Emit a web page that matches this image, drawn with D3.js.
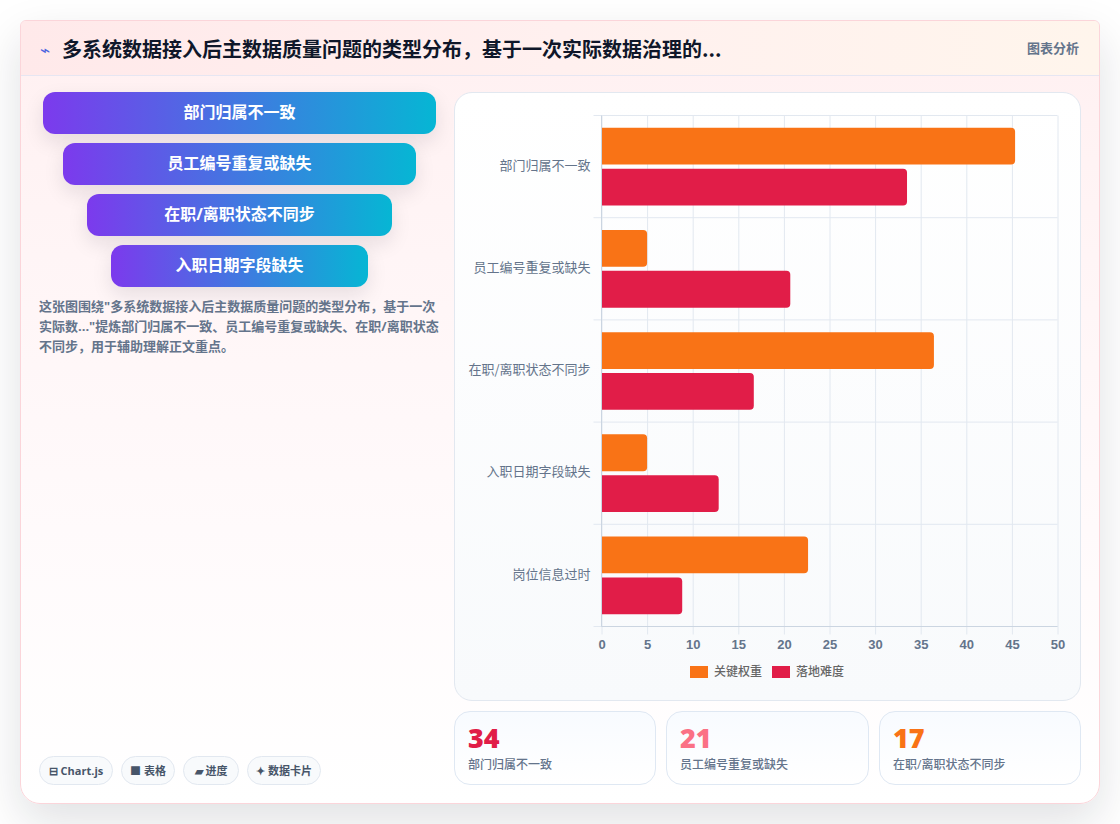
<!DOCTYPE html>
<html lang="zh-CN">
<head>
<meta charset="utf-8">
<title>主数据质量问题类型分布</title>
<script src="https://cdn.jsdelivr.net/npm/d3@7/dist/d3.min.js"></script>
<style>
  html, body { margin: 0; padding: 0; width: 1120px; height: 824px; overflow: hidden; background: #fff; }
  body { font-family: "Open Sans", "Noto Sans CJK SC", sans-serif; position: relative; }
  .abs { position: absolute; box-sizing: border-box; }
  .card { left: 20px; top: 20px; width: 1080px; height: 784px; border: 1px solid #fbd5da; border-radius: 6px 6px 20px 20px;
          background: linear-gradient(180deg, #fff0f1 0%, #fff5f6 30%, #fffafb 65%, #ffffff 100%);
          box-shadow: 0 18px 46px rgba(15, 23, 42, .13); }
  .head { left: 21px; top: 21px; width: 1078px; height: 55px; border-bottom: 1px solid #e6e6f2;
          background: linear-gradient(90deg, #ffe9ea 0%, #fff0ef 50%, #fff5ec 100%); border-radius: 5px 5px 0 0; }
  .title { left: 62px; top: 34px; font-family: "Noto Sans CJK SC", sans-serif; font-size: 20px; line-height: 30px; font-weight: 700; color: #0f172a; white-space: nowrap; }
  .bolt { left: 40px; top: 39px; font-size: 17px; line-height: 22px; color: #4a63e0; }
  .tag { right: 41px; top: 38px; font-size: 13px; line-height: 20px; font-weight: 700; color: #64748b; }
  .step { height: 42px; border-radius: 12px; color: #fff; font-size: 16px; font-weight: 700; line-height: 41px; text-align: center;
          background: linear-gradient(90deg, #7c3aed, #06b6d4); box-shadow: 0 8px 20px rgba(15, 23, 42, .10); }
  .note { left: 39px; top: 296px; width: 401px; font-size: 13px; line-height: 20px; font-weight: 700; color: #64748b; }
  .pill { top: 756px; height: 29px; border: 1px solid #e2e8f0; border-radius: 15px; background: #f8fafc; text-align: center;
          font-size: 11px; line-height: 27px; font-weight: 700; color: #475569; white-space: nowrap; }
  .panel { left: 454px; top: 92px; width: 627px; height: 609px; border: 1px solid #e2e8f0; border-radius: 18px;
           background: linear-gradient(180deg, #ffffff 0%, #f8fafc 100%); }
  .stat { top: 711px; height: 74px; border: 1px solid #dfe8f3; border-radius: 16px; background: linear-gradient(180deg, #f8fbff, #ffffff); }
  .stat b { position: absolute; left: 13px; top: 8px; font-size: 27px; line-height: 36px; font-weight: 800; }
  .stat span { position: absolute; left: 13px; top: 44px; font-size: 12px; line-height: 18px; font-weight: 500; color: #64748b; white-space: nowrap; }
  svg { position: absolute; left: 0; top: 0; }
</style>
</head>
<body>
<script>
// Survey of master-data quality issues after multi-system integration
const categories = ["部门归属不一致", "员工编号重复或缺失", "在职/离职状态不同步", "入职日期字段缺失", "岗位信息过时"];
const weightValues = [45.35, 5, 36.45, 5, 22.65];
const difficultyValues = [33.5, 20.7, 16.7, 12.85, 8.85];
const seriesNames = ["关键权重", "落地难度"];
const seriesColors = ["#f97316", "#e11d48"];
const xTicks = [0, 5, 10, 15, 20, 25, 30, 35, 40, 45, 50];

const titleText = "多系统数据接入后主数据质量问题的类型分布，基于一次实际数据治理的...";
const noteText = "这张图围绕\"多系统数据接入后主数据质量问题的类型分布，基于一次实际数...\"提炼部门归属不一致、员工编号重复或缺失、在职/离职状态不同步，用于辅助理解正文重点。";
const funnelSteps = categories.slice(0, 4);
const funnelBoxes = [[43, 393], [63, 353], [87, 305], [111, 257]];
const pillLabels = ["⊟ Chart.js", "■ 表格", "▰ 进度", "✦ 数据卡片"];
const pillBoxes = [[39, 74], [121, 54], [183, 56], [247, 74]];
const statColors = ["#e11d48", "#fb7185", "#f97316"];
const statBoxes = [[454, 202], [666, 203], [879, 202]];

const body = d3.select("body");
const box = (cls, parent = body) => parent.append("div").attr("class", "abs " + cls);

box("card");
box("head");
box("bolt").text("⌁");
box("title").text(titleText);
box("tag").text("图表分析");

// Funnel-style list of the leading issues
funnelSteps.forEach((label, i) => {
  box("step").style("left", funnelBoxes[i][0] + "px").style("width", funnelBoxes[i][1] + "px")
    .style("top", (92 + i * 51) + "px").text(label);
});
box("note").text(noteText);
pillLabels.forEach((label, i) => {
  box("pill").style("left", pillBoxes[i][0] + "px").style("width", pillBoxes[i][1] + "px").text(label);
});

box("panel");

// Summary cards read from the difficulty series
const fmtStat = d3.format(".0f");
statBoxes.forEach((b, i) => {
  const s = box("stat").style("left", b[0] + "px").style("width", b[1] + "px");
  s.append("b").style("color", statColors[i]).text(fmtStat(difficultyValues[i]));
  s.append("span").text(categories[i]);
});

// Grouped horizontal bar chart
const svg = body.append("svg").attr("width", 1120).attr("height", 824);
const plot = { left: 601.5, right: 1057.5, top: 115.5, bottom: 626.5 };
const x = d3.scaleLinear().domain([0, 50]).range([plot.left, plot.right]);
const y = d3.scaleBand().domain(categories).range([plot.top, plot.bottom]);
const y1 = d3.scaleBand().domain([0, 1]).range([0, y.bandwidth() * 0.8]);
const barH = y1.bandwidth() * 0.9;
const groupTop = c => y(c) + y.bandwidth() * 0.1;
const barTop = (c, s) => groupTop(c) + y1(s) + (y1.bandwidth() - barH) / 2;

const gridColor = "#e2e8f0";
const axisColor = "#cbd5e1";

const xAxis = d3.axisBottom(x).tickValues(xTicks).tickSize(plot.bottom - plot.top + 8).tickPadding(5);
const gx = svg.append("g").attr("transform", `translate(0,${plot.top})`).call(xAxis);
gx.select(".domain").remove();
gx.selectAll("line").attr("stroke", gridColor);
gx.selectAll("text").attr("fill", "#64748b")
  .style("font", "700 13px 'Liberation Sans', Arial, sans-serif");

const bandEdges = categories.map(c => y(c)).concat([plot.bottom]);
svg.append("g").selectAll("line").data(bandEdges).join("line")
  .attr("x1", plot.left - 8).attr("x2", plot.right)
  .attr("y1", d => d).attr("y2", d => d)
  .attr("stroke", gridColor);

// Rounded only on the value end, flat against the zero line
const barPath = (x1, top, h, r = 4) => {
  const x0 = x(0);
  return `M${x0},${top}H${x1 - r}Q${x1},${top} ${x1},${top + r}V${top + h - r}Q${x1},${top + h} ${x1 - r},${top + h}H${x0}Z`;
};
[weightValues, difficultyValues].forEach((values, s) => {
  svg.append("g").selectAll("path").data(categories).join("path")
    .attr("d", (c, i) => barPath(x(values[i]), barTop(c, s), barH))
    .attr("fill", seriesColors[s]);
});

// Axis lines on top of the gridlines
svg.append("line").attr("x1", plot.left).attr("x2", plot.left).attr("y1", plot.top).attr("y2", plot.bottom).attr("stroke", axisColor);
svg.append("line").attr("x1", plot.left).attr("x2", plot.right).attr("y1", plot.bottom).attr("y2", plot.bottom).attr("stroke", axisColor);

const yAxis = d3.axisLeft(y).tickSize(0).tickPadding(11);
const gy = svg.append("g").attr("transform", `translate(${plot.left},-1)`).call(yAxis);
gy.select(".domain").remove();
gy.selectAll("text").attr("fill", "#64748b").style("font", "400 13px 'Noto Sans CJK SC', sans-serif");

// Legend
const legendX = [690, 772];
const legend = svg.append("g").selectAll("g").data(seriesNames).join("g")
  .attr("transform", (d, i) => `translate(${legendX[i]},666)`);
legend.append("rect").attr("width", 18).attr("height", 12).attr("fill", (d, i) => seriesColors[i]);
legend.append("text").attr("x", 24).attr("y", 10).attr("fill", "#666")
  .style("font", "500 12px 'Noto Sans CJK SC', sans-serif").text(d => d);
</script>
</body>
</html>
